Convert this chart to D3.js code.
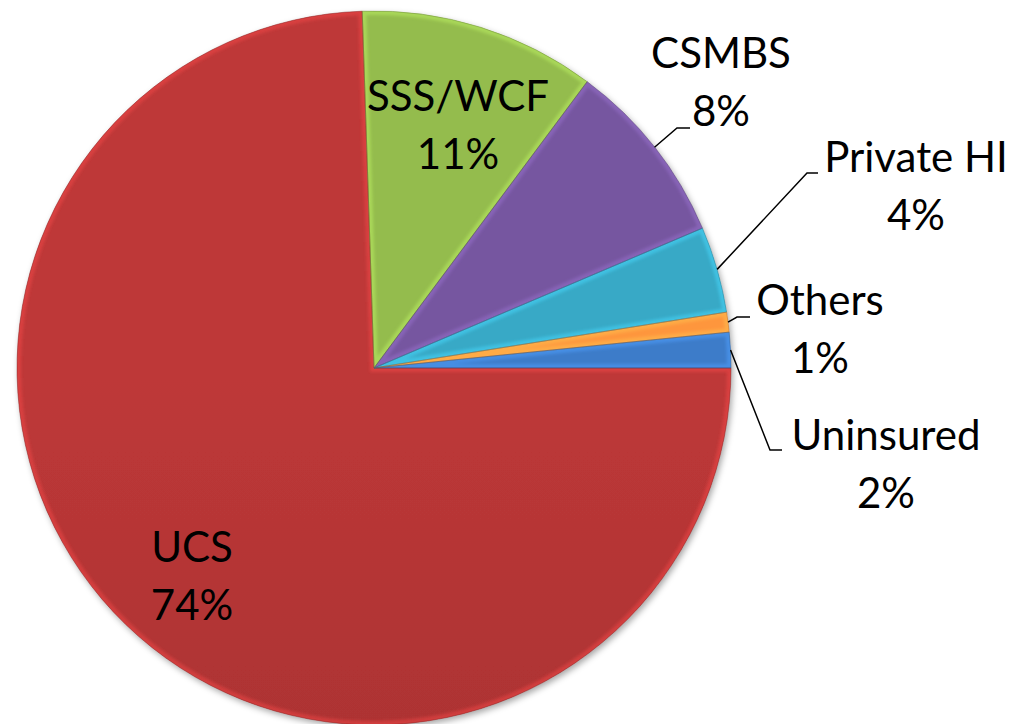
<!DOCTYPE html>
<html>
<head>
<meta charset="utf-8">
<script src="https://cdn.jsdelivr.net/npm/d3@7"></script>
<style>
  body { margin: 0; background: #fff; }
  svg { display: block; }
  .lbl { font-family: Lato, "Open Sans", sans-serif; font-size: 42px; fill: #000; }
</style>
</head>
<body>
<div id="chart"></div>
<script>
// data, starting at 3 o'clock and going clockwise
var categories = ["UCS", "SSS/WCF", "CSMBS", "Private HI", "Others", "Uninsured"];
var shares = [74.4, 10.7, 8.4, 3.9, 0.9, 1.6];
var colors = ["#b73636", "#8fb54a", "#72549a", "#35a3bf", "#f5913c", "#3a78c2"];

// label layout, hand placed like the original (relative to pie centre)
var labelPos = {
  "UCS":        {x: -182, y: 194, leader: null},
  "SSS/WCF":    {x: 84,   y: -257, leader: null},
  "CSMBS":      {x: 347,  y: -300, leader: [[303, -240], [316, -240]]},
  "Private HI": {x: 542,  y: -196, leader: [[433, -195], [444, -195]]},
  "Others":     {x: 446,  y: -53,  leader: [[363, -51], [376, -51]]},
  "Uninsured":  {x: 512,  y: 82,   leader: [[396, 82], [408, 82]]}
};

var width = 1013, height = 724;
var cx = 374, cy = 368, radius = 357;
var lineGap = 58;

var svg = d3.select("#chart").append("svg")
    .attr("width", width)
    .attr("height", height);

var defs = svg.append("defs");

var shadow = defs.append("filter")
    .attr("id", "shadow")
    .attr("x", "-10%").attr("y", "-10%")
    .attr("width", "120%").attr("height", "120%");
shadow.append("feDropShadow")
    .attr("dx", 2).attr("dy", 3)
    .attr("stdDeviation", 3)
    .attr("flood-color", "#000")
    .attr("flood-opacity", 0.35);

var soft = defs.append("filter").attr("id", "soft");
soft.append("feGaussianBlur").attr("stdDeviation", 1.5);

colors.forEach(function(c, i) {
    var grad = defs.append("linearGradient")
        .attr("id", "grad" + i)
        .attr("gradientUnits", "userSpaceOnUse")
        .attr("x1", 0).attr("y1", cy - radius)
        .attr("x2", 0).attr("y2", cy + radius);
    grad.append("stop").attr("offset", 0).attr("stop-color", d3.rgb(c).brighter(0.1));
    grad.append("stop").attr("offset", 1).attr("stop-color", d3.rgb(c).darker(0.45));
});

var pie = d3.pie()
    .sort(null)
    .value(function(d) { return d; })
    .startAngle(Math.PI / 2)
    .endAngle(Math.PI / 2 + 2 * Math.PI);

var arcs = pie(shares);

var arc = d3.arc().innerRadius(0).outerRadius(radius);
var rim = d3.arc().innerRadius(radius).outerRadius(radius);

var g = svg.append("g")
    .attr("transform", "translate(" + cx + "," + cy + ")");

var slices = g.append("g").attr("filter", "url(#shadow)");

slices.selectAll("path.slice")
    .data(arcs)
  .enter().append("path")
    .attr("class", "slice")
    .attr("d", arc)
    .attr("fill", function(d, i) { return "url(#grad" + i + ")"; });

// clip each bevel to its own slice
arcs.forEach(function(d, i) {
    defs.append("clipPath")
        .attr("id", "clip" + i)
      .append("path")
        .attr("d", arc(d));
});

var bevels = g.append("g");

bevels.selectAll("path.bevel")
    .data(arcs)
  .enter().append("g")
    .attr("clip-path", function(d, i) { return "url(#clip" + i + ")"; })
  .append("path")
    .attr("class", "bevel")
    .attr("d", arc)
    .attr("fill", "none")
    .attr("stroke", function(d, i) { return d3.rgb(colors[i]).brighter(0.8); })
    .attr("stroke-width", 8)
    .attr("stroke-opacity", 0.5)
    .attr("filter", "url(#soft)");

g.append("g").selectAll("path.edge")
    .data(arcs)
  .enter().append("path")
    .attr("class", "edge")
    .attr("d", arc)
    .attr("fill", "none")
    .attr("stroke", function(d, i) { return d3.rgb(colors[i]).darker(0.8); })
    .attr("stroke-width", 0.8)
    .attr("stroke-opacity", 0.6);

// leader lines
var line = d3.line();
arcs.forEach(function(d, i) {
    var p = labelPos[categories[i]];
    if (!p.leader) return;
    var start = rim.centroid(d);
    g.append("path")
        .attr("d", line([start].concat(p.leader)))
        .attr("fill", "none")
        .attr("stroke", "#000")
        .attr("stroke-width", 1.5);
});

// labels
arcs.forEach(function(d, i) {
    var p = labelPos[categories[i]];
    var t = g.append("text")
        .attr("class", "lbl")
        .attr("text-anchor", "middle")
        .attr("x", p.x)
        .attr("y", p.y);
    t.append("tspan")
        .attr("x", p.x)
        .text(categories[i]);
    t.append("tspan")
        .attr("x", p.x)
        .attr("dy", lineGap)
        .text(Math.round(shares[i]) + "%");
});
</script>
</body>
</html>
